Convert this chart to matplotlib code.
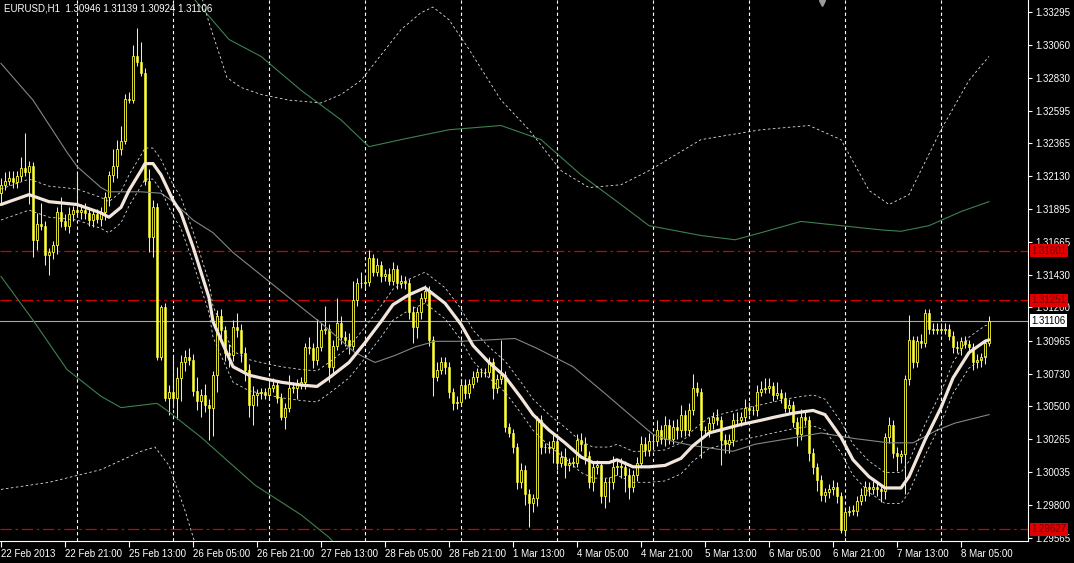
import matplotlib
matplotlib.use('Agg')
import numpy as np
import matplotlib.pyplot as plt
from matplotlib.transforms import blended_transform_factory

plt.rcParams['font.family'] = ['Liberation Sans', 'DejaVu Sans']

# ---- data (EURUSD H1, 22 Feb 2013 05:00 .. 8 Mar 2013 12:00) ----
title = 'EURUSD,H1  1.30946 1.31139 1.30924 1.31106'

first_open = 1.3201
close = [
    1.3207, 1.3210, 1.3212, 1.3209, 1.3213, 1.3219, 1.3216, 1.3220, 1.3168, 1.3179,
    1.3178, 1.3157, 1.3159, 1.3164, 1.3188, 1.3181, 1.3178, 1.3186, 1.3189, 1.3188,
    1.3189, 1.3187, 1.3182, 1.3186, 1.3183, 1.3188, 1.3198, 1.3214, 1.3220, 1.3232,
    1.3238, 1.3268, 1.3267, 1.3298, 1.3294, 1.3286, 1.3210, 1.3170, 1.3191, 1.3085,
    1.3120, 1.3056, 1.3060, 1.3056, 1.3070, 1.3081, 1.3085, 1.3083, 1.3061, 1.3054,
    1.3058, 1.3051, 1.3049, 1.3072, 1.3114, 1.3104, 1.3088, 1.3086, 1.3106, 1.3104,
    1.3088, 1.3076, 1.3051, 1.3058, 1.3059, 1.3060, 1.3058, 1.3063, 1.3065, 1.3056,
    1.3042, 1.3049, 1.3063, 1.3063, 1.3066, 1.3067, 1.3092, 1.3091, 1.3083, 1.3092,
    1.3104, 1.3105, 1.3078, 1.3093, 1.3109, 1.3099, 1.3097, 1.3093, 1.3125, 1.3137,
    1.3137, 1.3138, 1.3155, 1.3145, 1.3150, 1.3142, 1.3144, 1.3139, 1.3147, 1.3137,
    1.3139, 1.3137, 1.3117, 1.3106, 1.3117, 1.3127, 1.3132, 1.3097, 1.3071, 1.3076,
    1.3081, 1.3078, 1.3060, 1.3052, 1.3053, 1.3065, 1.3059, 1.3066, 1.3071, 1.3074,
    1.3074, 1.3074, 1.3081, 1.3063, 1.3069, 1.3072, 1.3035, 1.3031, 1.3021, 1.2996,
    1.3005, 1.2988, 1.2981, 1.2985, 1.3040, 1.3021, 1.3021, 1.3020, 1.3025, 1.3010,
    1.3014, 1.3008, 1.3010, 1.3010, 1.3026, 1.3023, 1.3015, 1.2996, 1.3007, 1.3008,
    1.2986, 1.2996, 1.2996, 1.3007, 1.3007, 1.3007, 1.3001, 1.2993, 1.3001, 1.3010,
    1.3023, 1.3019, 1.3025, 1.3025, 1.3033, 1.3027, 1.3037, 1.3027, 1.3035, 1.3033,
    1.3044, 1.3033, 1.3047, 1.3063, 1.3060, 1.3033, 1.3033, 1.3038, 1.3042, 1.3040,
    1.3026, 1.3023, 1.3026, 1.3040, 1.3040, 1.3042, 1.3049, 1.3047, 1.3047, 1.3060,
    1.3062, 1.3063, 1.3064, 1.3058, 1.3059, 1.3056, 1.3049, 1.3051, 1.3039, 1.3030,
    1.3042, 1.3040, 1.3017, 1.3007, 1.2998, 1.2987, 1.2989, 1.2991, 1.2993, 1.2986,
    1.2962, 1.2975, 1.2976, 1.2976, 1.2983, 1.2987, 1.2993, 1.2991, 1.2993, 1.2991,
    1.2990, 1.3028, 1.3037, 1.3017, 1.3015, 1.3016, 1.3069, 1.3097, 1.3081, 1.3096,
    1.3095, 1.3116, 1.3105, 1.3104, 1.3104, 1.3104, 1.3105, 1.3100, 1.3092, 1.3091,
    1.3096, 1.3094, 1.3092, 1.3081, 1.3083, 1.3085, 1.30946, 1.31106,
]
# upper / lower shadow length in pips
wick_up = [
    5, 6, 5, 5, 4, 8, 25, 4, 3, 8, 15, 3, 3, 3, 3, 10, 5, 5, 3, 27,
    4, 5, 4, 4, 4, 3, 4, 3, 12, 7, 11, 3, 5, 8, 20, 14, 4, 8, 5, 3,
    2, 3, 5, 25, 8, 5, 5, 6, 4, 10, 4, 8, 4, 3, 4, 5, 3, 6, 5, 10,
    4, 4, 4, 6, 3, 3, 3, 4, 5, 3, 3, 3, 9, 4, 3, 4, 3, 7, 4, 20,
    5, 16, 3, 4, 18, 5, 4, 5, 14, 4, 8, 4, 6, 3, 5, 3, 3, 4, 5, 3,
    4, 3, 3, 4, 3, 3, 4, 3, 3, 5, 4, 4, 3, 3, 4, 4, 4, 3, 4, 3,
    3, 3, 4, 3, 4, 25, 3, 3, 3, 3, 5, 3, 3, 3, 3, 4, 3, 4, 5, 4,
    4, 6, 3, 4, 4, 5, 5, 3, 3, 4, 3, 3, 4, 8, 5, 6, 4, 5, 4, 4,
    6, 5, 6, 4, 7, 4, 6, 4, 5, 6, 7, 3, 5, 10, 4, 3, 3, 4, 4, 6,
    3, 4, 4, 5, 6, 4, 6, 4, 3, 5, 6, 7, 6, 3, 8, 3, 4, 4, 3, 3,
    6, 4, 3, 3, 3, 3, 3, 4, 5, 3, 3, 3, 3, 4, 3, 5, 4, 3, 4, 3,
    3, 3, 5, 3, 4, 3, 3, 18, 3, 4, 5, 3, 3, 4, 5, 5, 4, 3, 3, 4,
    3, 4, 3, 3, 4, 3, 3, 3.3,
]
wick_dn = [
    8, 4, 3, 4, 4, 3, 3, 23, 12, 7, 3, 7, 14, 5, 6, 4, 3, 5, 5, 4,
    5, 4, 4, 5, 3, 5, 6, 6, 5, 8, 4, 2, 2, 2, 3, 2, 3, 11, 14, 2,
    2, 2, 12, 7, 15, 16, 6, 4, 4, 7, 12, 5, 23, 20, 12, 8, 6, 8, 4, 5,
    7, 8, 9, 14, 8, 4, 3, 3, 3, 4, 2, 8, 3, 4, 8, 4, 5, 4, 6, 4,
    3, 3, 11, 5, 3, 5, 4, 6, 3, 4, 3, 3, 3, 3, 3, 4, 3, 3, 3, 4,
    3, 4, 5, 11, 8, 5, 3, 4, 14, 3, 3, 5, 4, 5, 4, 3, 4, 3, 3, 4,
    3, 3, 3, 8, 4, 3, 3, 3, 4, 5, 4, 8, 17, 6, 6, 5, 4, 3, 10, 5,
    3, 9, 4, 3, 3, 5, 6, 4, 6, 5, 5, 8, 14, 5, 6, 8, 12, 9, 4, 4,
    3, 4, 4, 4, 3, 4, 5, 4, 4, 6, 5, 4, 4, 3, 3, 20, 4, 5, 4, 3,
    18, 6, 6, 4, 3, 4, 4, 3, 3, 4, 3, 3, 4, 4, 3, 4, 3, 4, 4, 8,
    4, 3, 6, 5, 8, 4, 5, 4, 4, 5, 2, 4, 3, 3, 4, 3, 4, 5, 3, 5,
    8, 6, 4, 4, 11, 5, 28, 4, 4, 3, 4, 3, 4, 3, 3, 3, 3, 3, 4, 3,
    5, 3, 4, 5, 4, 5, 5, 2.2,
]

# centred TMA (thick line) and its channel
tma_idx = [0, 7, 12, 19, 25, 27, 30, 32, 35, 36, 38, 40, 43, 45, 48, 52, 53, 55, 58,
           62, 65, 70, 75, 79, 82, 87, 91, 95, 98, 102, 106, 111, 115, 118, 122, 126,
           130, 133, 137, 141, 145, 148, 152, 154, 158, 162, 166, 170, 173, 177, 181,
           185, 190, 193, 198, 203, 206, 210, 213, 217, 221, 225, 227, 231, 235, 238,
           242, 246, 247]
tma_val = [1.3193, 1.3200, 1.3195, 1.3193, 1.3187, 1.3184, 1.3191, 1.3203, 1.3217,
           1.3222, 1.3222, 1.3214, 1.3196, 1.3187, 1.3163, 1.3127, 1.3110, 1.3097,
           1.3078, 1.3072, 1.3070, 1.3067, 1.3065, 1.3064, 1.3070, 1.3081, 1.3095,
           1.3110, 1.3122, 1.3129, 1.3134, 1.3123, 1.3108, 1.3093, 1.3081, 1.3071,
           1.3056, 1.3044, 1.3033, 1.3024, 1.3014, 1.3010, 1.3010, 1.3012, 1.3007,
           1.3007, 1.3008, 1.3013, 1.3022, 1.3031, 1.3034, 1.3037, 1.3040, 1.3042,
           1.3045, 1.3047, 1.3044, 1.3028, 1.3012, 1.3000, 1.2992, 1.2992, 1.3000,
           1.3026, 1.3049, 1.3070, 1.3088, 1.3096, 1.3097]
tma_band = 0.0011

# long period bands
mid_idx = [0, 8, 16.5, 19, 25, 27, 35, 40, 43, 48, 53, 58, 65, 72, 80, 88.5, 93.5,
           98.5, 103.5, 108.5, 115, 122, 128.5, 134, 143, 151, 158, 163, 168, 173,
           178, 183, 188.5, 197, 205, 213.5, 222, 228, 234, 238.5, 247]
mid_val = [1.3293, 1.3267, 1.3230, 1.3220, 1.3205, 1.3202, 1.3202, 1.3201, 1.3195,
           1.3182, 1.3173, 1.3159, 1.3143, 1.3127, 1.3109, 1.3088, 1.3081, 1.3086,
           1.3092, 1.3096, 1.3096, 1.3097, 1.3098, 1.3091, 1.3078, 1.3059, 1.3042,
           1.3030, 1.3025, 1.3022, 1.3020, 1.3018, 1.3023, 1.3027, 1.3031, 1.3027,
           1.3024, 1.3024, 1.3033, 1.3038, 1.3044]
upper_idx = [43, 48.5, 57, 65, 75, 85, 92, 100, 112, 125, 135, 145, 155, 162, 175,
             183.5, 190, 200, 210, 220, 225, 232, 240, 247]
upper_val = [1.3358, 1.3338, 1.3310, 1.3298, 1.3274, 1.3253, 1.3234, 1.3239, 1.3246,
             1.3249, 1.3239, 1.3214, 1.3193, 1.3178, 1.3171, 1.3168, 1.3173, 1.3181,
             1.3178, 1.3175, 1.3174, 1.3178, 1.3188, 1.3195]
lower_idx = [0, 8, 16.5, 25, 30, 39, 41.5, 50, 63.5, 75, 82, 86]
lower_val = [1.3142, 1.3111, 1.3076, 1.3057, 1.3049, 1.3052, 1.3047, 1.3028, 1.2994,
             1.2973, 1.2957, 1.2945]

# outer dashed envelope
outer_up_idx = [50, 52, 56.5, 60, 65, 72, 80, 85, 90, 95, 100, 105, 108, 112, 117,
                125, 132, 140, 147, 155, 162, 175, 190, 202, 210, 217, 222, 227, 235,
                242, 247]
outer_up_val = [1.3342, 1.3322, 1.3283, 1.3276, 1.3271, 1.3267, 1.3265, 1.3271,
                1.3281, 1.3299, 1.3317, 1.3329, 1.3333, 1.3324, 1.3303, 1.3267,
                1.3246, 1.3217, 1.3205, 1.3207, 1.3217, 1.3239, 1.3246, 1.3249,
                1.3239, 1.3203, 1.3193, 1.3200, 1.3246, 1.3281, 1.3298]
outer_dn_idx = [0, 12, 25, 35, 38.5, 42, 46, 50]
outer_dn_val = [1.2991, 1.2996, 1.3005, 1.3018, 1.3021, 1.3008, 1.2976, 1.2939]

day_starts = [19, 43, 67, 91, 115, 139, 163, 187, 211, 235]
time_ticks = [0, 16, 32, 48, 64, 80, 96, 112, 128, 144, 160, 176, 192, 208, 224, 240]
time_labels = ['22 Feb 2013', '22 Feb 21:00', '25 Feb 13:00', '26 Feb 05:00',
               '26 Feb 21:00', '27 Feb 13:00', '28 Feb 05:00', '28 Feb 21:00',
               '1 Mar 13:00', '4 Mar 05:00', '4 Mar 21:00', '5 Mar 13:00',
               '6 Mar 05:00', '6 Mar 21:00', '7 Mar 13:00', '8 Mar 05:00']
price_labels = ['1.33295', '1.33060', '1.32830', '1.32595', '1.32365', '1.32130',
                '1.31895', '1.31665', '1.31430', '1.31200', '1.30965', '1.30730',
                '1.30500', '1.30265', '1.30035', '1.29800', '1.29565']
price_ticks = [float(s) for s in price_labels]
red_levels = [1.31601, 1.31251, 1.29627]
bid = 1.31106

# ---- build OHLC ----
c = np.array(close)
o = np.concatenate([[first_open], c[:-1]])
h = np.maximum(o, c) + np.array(wick_up) * 0.0001
l = np.minimum(o, c) - np.array(wick_dn) * 0.0001
x = np.arange(len(c))

YEL = '#ffff38'
fig = plt.figure(figsize=(10.74, 5.63), dpi=100, facecolor='black')
ax = fig.add_axes([0, 22 / 563, 1028 / 1074, 541 / 563])
ax.set_facecolor('black')
ax.set_xlim(-0.25, 256.75)
ax.set_ylim(1.29544, 1.33380)

# period separators and levels
for d in day_starts:
    ax.axvline(d, color='white', lw=0.8, ls=(0, (3, 2.5)), zorder=1)
for lv in red_levels:
    ax.axhline(lv, color='#d00000', lw=0.9, ls=(0, (9, 3, 2, 3)), zorder=1)
ax.axhline(bid, color='#a8a8a8', lw=0.8, zorder=1)

# candles
ax.vlines(x, l, h, color=YEL, lw=0.75, zorder=3)
up = c >= o
body_h = np.maximum(np.abs(c - o), 0.00004)
body_b = np.minimum(o, c)
ax.bar(x[up], body_h[up], bottom=body_b[up], width=0.72, facecolor='black',
       edgecolor=YEL, linewidth=0.6, zorder=4)
ax.bar(x[~up], body_h[~up], bottom=body_b[~up], width=0.72, facecolor=YEL,
       edgecolor=YEL, linewidth=0.4, zorder=4)

# indicators
band_col = '#3f8050'
ax.plot(mid_idx, mid_val, color='#7f8a80', lw=0.8, zorder=5)
ax.plot(upper_idx, upper_val, color=band_col, lw=0.8, zorder=5)
ax.plot(lower_idx, lower_val, color=band_col, lw=0.8, zorder=5)
ax.plot(outer_up_idx, outer_up_val, color='#e0e0e0', lw=0.6, ls=(0, (3, 3)), zorder=5)
ax.plot(outer_dn_idx, outer_dn_val, color='#e0e0e0', lw=0.6, ls=(0, (3, 3)), zorder=5)
tma = np.array(tma_val)
ax.plot(tma_idx, tma + tma_band, color='#d8d8d8', lw=0.6, ls=(0, (3, 3)), zorder=6)
ax.plot(tma_idx, tma - tma_band, color='#d8d8d8', lw=0.6, ls=(0, (3, 3)), zorder=6)
ax.plot(tma_idx, tma, color='#f2e6dc', lw=2.3, solid_capstyle='round',
        solid_joinstyle='round', zorder=7)

# axes styling
for side in ['top', 'left']:
    ax.spines[side].set_visible(False)
for side in ['right', 'bottom']:
    ax.spines[side].set_color('white')
    ax.spines[side].set_linewidth(0.8)
ax.yaxis.tick_right()
ax.set_yticks(price_ticks)
ax.set_yticklabels(price_labels)
ax.set_xticks(time_ticks)
ax.set_xticklabels(time_labels, ha='left')
ax.tick_params(axis='y', colors='white', length=3, width=0.8, pad=2, labelsize=7)
ax.tick_params(axis='x', colors='white', length=4, width=0.8, pad=2, labelsize=7)

# price boxes on the right scale
tr = blended_transform_factory(ax.transAxes, ax.transData)
for lv in red_levels:
    ax.text(1.0035, lv, f'{lv:.5f}', transform=tr, ha='left', va='center',
            fontsize=7, color='#7a0000', clip_on=False, zorder=10,
            bbox=dict(boxstyle='square,pad=0.15', fc='#e00000', ec='none'))
ax.text(1.0035, bid, f'{bid:.5f}', transform=tr, ha='left', va='center',
        fontsize=7, color='black', clip_on=False, zorder=10,
        bbox=dict(boxstyle='square,pad=0.15', fc='white', ec='none'))

# chart-shift marker at the top edge
ax.plot([0.8], [0.995], marker='v', markersize=5, color='#9a9a9a',
        transform=ax.transAxes, clip_on=False, zorder=10)

ax.text(0.004, 0.993, title, transform=ax.transAxes, ha='left', va='top',
        fontsize=7, color='white', zorder=10)

fig.savefig('out.png', dpi=100, facecolor='black')
